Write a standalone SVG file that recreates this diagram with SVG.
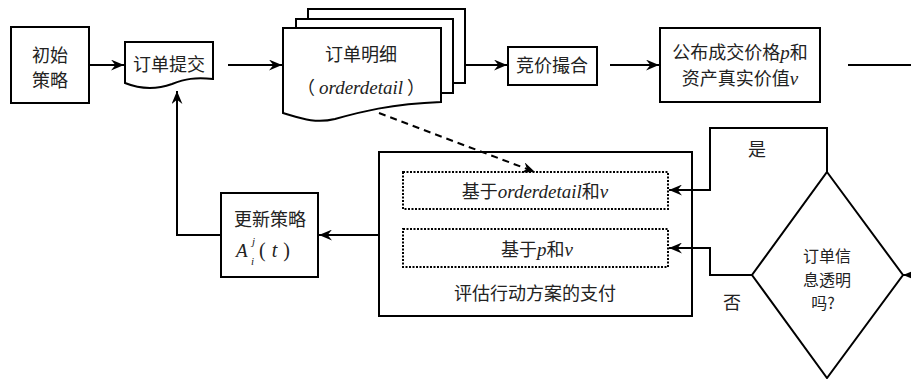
<svg xmlns="http://www.w3.org/2000/svg" width="911" height="379" viewBox="0 0 911 379">
<style>
.b{fill:#fff;stroke:#000;stroke-width:2}
.n{fill:none;stroke:#000;stroke-width:2}
.d{fill:none;stroke:#000;stroke-width:2;stroke-dasharray:2 1.5}
.t{font-family:"Noto Sans CJK SC","Noto Sans",sans-serif;font-size:18px;fill:#222;text-anchor:middle}
.i{font-family:"Liberation Serif",serif;font-style:italic;font-size:19px}
.s{font-family:"Liberation Serif",serif;font-style:italic;font-size:11px;fill:#222}
</style>
<defs>
<marker id="a" viewBox="0 0 12 10" refX="12" refY="5" markerWidth="13" markerHeight="11" markerUnits="userSpaceOnUse" orient="auto">
<path d="M0,0 L12,5 L0,10 L4,5 Z" fill="#000"/>
</marker>
</defs>
<rect width="911" height="379" fill="#fff"/>
<g id="init">
<rect class="b" x="11" y="27" width="78" height="76"/>
<text class="t" x="50" y="62">初始</text>
<text class="t" x="50" y="87">策略</text>
</g>
<g id="submit">
<path class="b" d="M125,42 H213 V79 C195,77 185,79 172,84 C155,90 140,89 125,83 Z"/>
<text class="t" x="169" y="71">订单提交</text>
</g>
<g id="detail">
<rect class="b" x="308" y="9" width="157" height="74"/>
<rect class="b" x="296" y="19" width="157" height="74"/>
<path class="b" d="M283,28 H441 V102 C390,104 360,112 335,119 C315,124 300,118 283,113 Z"/>
<text class="t" x="361" y="61">订单明细</text>
<text class="t" x="361" y="94">（ <tspan class="i">orderdetail</tspan> ）</text>
</g>
<g id="match">
<rect class="b" x="508" y="47" width="89" height="38"/>
<text class="t" x="552" y="72">竞价撮合</text>
</g>
<g id="publish">
<rect class="b" x="660" y="28" width="160" height="74"/>
<text class="t" x="740" y="59">公布成交价格<tspan class="i">p</tspan>和</text>
<text class="t" x="740" y="85">资产真实价值<tspan class="i">v</tspan></text>
</g>
<g id="evaluate">
<rect class="b" x="379" y="152" width="313" height="164"/>
<rect class="d" x="403" y="172" width="265" height="37"/>
<text class="t" x="535" y="198">基于<tspan class="i">orderdetail</tspan>和<tspan class="i">v</tspan></text>
<rect class="d" x="403" y="229" width="265" height="38"/>
<text class="t" x="537" y="256">基于<tspan class="i">p</tspan>和<tspan class="i">v</tspan></text>
<text class="t" x="535" y="300">评估行动方案的支付</text>
</g>
<g id="update">
<rect class="b" x="221" y="193" width="97" height="84"/>
<text class="t" x="270" y="226">更新策略</text>
<text class="i" x="236" y="257" fill="#222">A</text>
<text class="s" x="252" y="245">j</text>
<text class="s" x="251" y="265">i</text>
<text x="259" y="257" font-family="Liberation Serif,serif" font-size="20" fill="#222">(<tspan dx="6" font-style="italic">t</tspan><tspan dx="6">)</tspan></text>
</g>
<g id="decision">
<path class="b" d="M827,172 L903,275 L827,378 L752,275 Z"/>
<text class="t" x="827" y="262" style="font-size:16px">订单信</text>
<text class="t" x="827" y="285.5" style="font-size:16px">息透明</text>
<text class="t" x="823" y="309" style="font-size:16px">吗?</text>
</g>
<g id="connectors">
<line class="n" x1="89" y1="65" x2="124" y2="65" marker-end="url(#a)"/>
<line class="n" x1="228" y1="65" x2="282" y2="65" marker-end="url(#a)"/>
<line class="n" x1="465" y1="65" x2="507" y2="65" marker-end="url(#a)"/>
<line class="n" x1="610" y1="65" x2="659" y2="65" marker-end="url(#a)"/>
<line class="n" x1="848" y1="65" x2="911" y2="65"/>
<path d="M913,275 L903,275" class="n" marker-end="url(#a)"/>
<path d="M379,113 L535,172" fill="none" stroke="#000" stroke-width="2" stroke-dasharray="7 5" marker-end="url(#a)"/>
<path d="M827,172 V128 H710 V190 H669" class="n" marker-end="url(#a)"/>
<path d="M752,275 H710 V248 H669" class="n" marker-end="url(#a)"/>
<line class="n" x1="379" y1="235" x2="319" y2="235" marker-end="url(#a)"/>
<path d="M221,235 H177 V91" class="n" marker-end="url(#a)"/>
<text class="t" x="757" y="156">是</text>
<text class="t" x="732" y="309">否</text>
</g>
</svg>
